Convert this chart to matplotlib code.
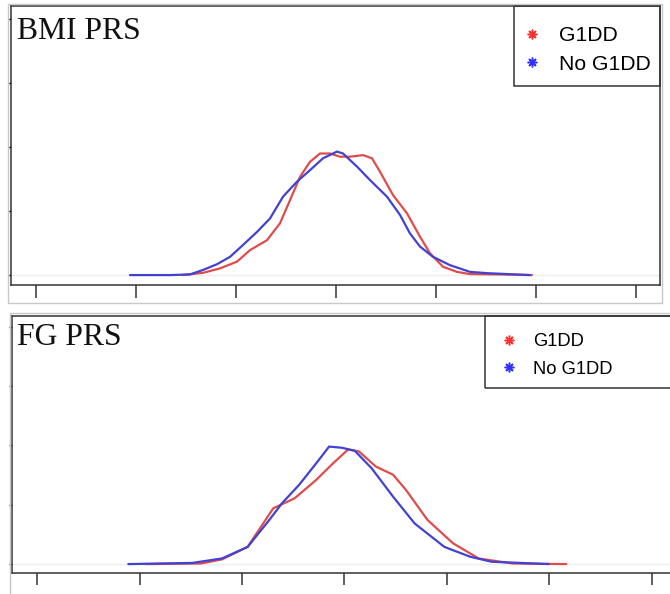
import matplotlib.pyplot as plt
from matplotlib.lines import Line2D
from matplotlib.patches import Rectangle

# density curves of the polygenic risk scores, read as (score, density)
bmi_g1dd_x = [-3.08, -2.66, -2.32, -1.98, -1.72, -1.38, -1.12, -0.92, -0.72, -0.52, -0.32,
              -0.12, 0.08, 0.28, 0.54, 0.72, 0.88, 1.14, 1.42, 1.68, 1.88, 2.14, 2.42,
              2.68, 3.28, 3.92]
bmi_g1dd_y = [0.0, 0.007, 0.021, 0.042, 0.078, 0.109, 0.162, 0.234, 0.307, 0.354, 0.380,
              0.380, 0.370, 0.370, 0.375, 0.365, 0.323, 0.250, 0.193, 0.120, 0.068, 0.026,
              0.010, 0.003, 0.002, 0.0]
bmi_none_x = [-4.12, -3.32, -2.92, -2.66, -2.38, -2.12, -1.86, -1.58, -1.32, -1.06, -0.78,
              -0.52, -0.26, 0.02, 0.14, 0.42, 0.68, 1.02, 1.28, 1.48, 1.68, 1.94, 2.28,
              2.68, 3.02, 3.88]
bmi_none_y = [0.0, 0.0, 0.002, 0.016, 0.034, 0.057, 0.094, 0.135, 0.177, 0.245, 0.292,
              0.328, 0.365, 0.386, 0.380, 0.339, 0.297, 0.245, 0.188, 0.130, 0.089, 0.057,
              0.031, 0.010, 0.006, 0.0]

fg_g1dd_x = [-3.89, -2.80, -2.39, -1.89, -1.39, -0.97, -0.55, -0.22, 0.07, 0.28, 0.61,
             0.95, 1.20, 1.62, 2.12, 2.62, 3.28, 4.33]
fg_g1dd_y = [0.0, 0.002, 0.016, 0.058, 0.188, 0.222, 0.284, 0.340, 0.386, 0.380, 0.329,
             0.301, 0.250, 0.149, 0.070, 0.019, 0.002, 0.0]
fg_none_x = [-4.22, -2.97, -2.39, -1.89, -1.47, -1.22, -0.89, -0.55, -0.30, -0.05, 0.20,
             0.53, 0.95, 1.37, 1.95, 2.45, 2.87, 3.99]
fg_none_y = [0.0, 0.004, 0.019, 0.058, 0.148, 0.205, 0.266, 0.340, 0.396, 0.392, 0.382,
             0.323, 0.227, 0.137, 0.058, 0.025, 0.008, 0.0]

x_ticks = [-6, -4, -2, 0, 2, 4, 6]
y_ticks = [0, 0.2, 0.4, 0.6, 0.8]
labels = ["G1DD", "No G1DD"]
RED = "#e04c4c"
BLUE = "#4242d2"

fig = plt.figure(figsize=(6.7, 5.94), dpi=100)
W, H = 670, 594

# light grey frames around each panel
fig.patches.append(Rectangle((8 / W, 1 - 303 / H), 654 / W, 299 / H, transform=fig.transFigure,
                             fill=False, edgecolor="#c8c8c8", lw=1, zorder=0))
fig.patches.append(Rectangle((10 / W, -0.05), 0.99, 1 - 313 / H + 0.05, transform=fig.transFigure,
                             fill=False, edgecolor="#c8c8c8", lw=1, zorder=0))


def panel(rect, xlim, ylim, curves, title, tick_len, leg_box, leg_anchor, leg_size, leg_gap):
    ax = fig.add_axes(rect)
    ax.axhline(0, color="#eeeeee", lw=1, zorder=1)
    for xs, ys, c in curves:
        ax.plot(xs, ys, color=c, lw=1.6, zorder=3, solid_joinstyle="round",
                solid_capstyle="round")
    ax.set_xlim(*xlim)
    ax.set_ylim(*ylim)
    ax.set_xticks(x_ticks)
    ax.set_yticks(y_ticks)
    ax.set_xticklabels([])
    ax.set_yticklabels([])
    ax.tick_params(axis="x", direction="out", length=tick_len, width=1.1, color="#333333")
    ax.tick_params(axis="y", direction="out", length=2, width=1.0, color="#333333")
    for s in ax.spines.values():
        s.set_color("#333333")
        s.set_linewidth(1.1)
    ax.text(title[1], title[2], title[0], transform=ax.transAxes, va="baseline", ha="left",
            family="Liberation Serif", fontsize=22.8, color="#111111")

    # legend frame drawn separately so it can run past the axes edge
    ax.add_patch(Rectangle(leg_box[:2], leg_box[2], leg_box[3], transform=ax.transAxes,
                           fill=False, edgecolor="#333333", lw=1.1, clip_on=False, zorder=4))
    handles = [Line2D([], [], ls="none", marker=(8, 2, 0), markersize=7, mew=1.1, color=c)
               for c in ("#ff3030", "#3030ff")]
    ax.legend(handles, labels, loc="upper left", bbox_to_anchor=leg_anchor, frameon=False,
              borderaxespad=0, borderpad=0, handlelength=0.8, handletextpad=0.9,
              labelspacing=leg_gap, prop={"family": "Liberation Sans", "size": leg_size})
    return ax


panel([11 / W, 1 - 285 / H, 649 / W, 279 / H], (-6.5, 6.48), (-0.031, 0.841),
      [(bmi_g1dd_x, bmi_g1dd_y, RED), (bmi_none_x, bmi_none_y, BLUE)],
      ("BMI PRS", 0.0095, 0.882), 9.4,
      (0.775, 0.713, 0.225, 0.287), (0.789, 0.928), 15.2, 0.45)

panel([12 / W, 1 - 573 / H, 668 / W, 257 / H], (-6.49, 6.55), (-0.030, 0.836),
      [(fg_g1dd_x, fg_g1dd_y, RED), (fg_none_x, fg_none_y, BLUE)],
      ("FG PRS", 0.0075, 0.887), 8.6,
      (0.708, 0.720, 0.4, 0.28), (0.733, 0.932), 13.2, 0.55)

fig.savefig("out.png", dpi=100)
